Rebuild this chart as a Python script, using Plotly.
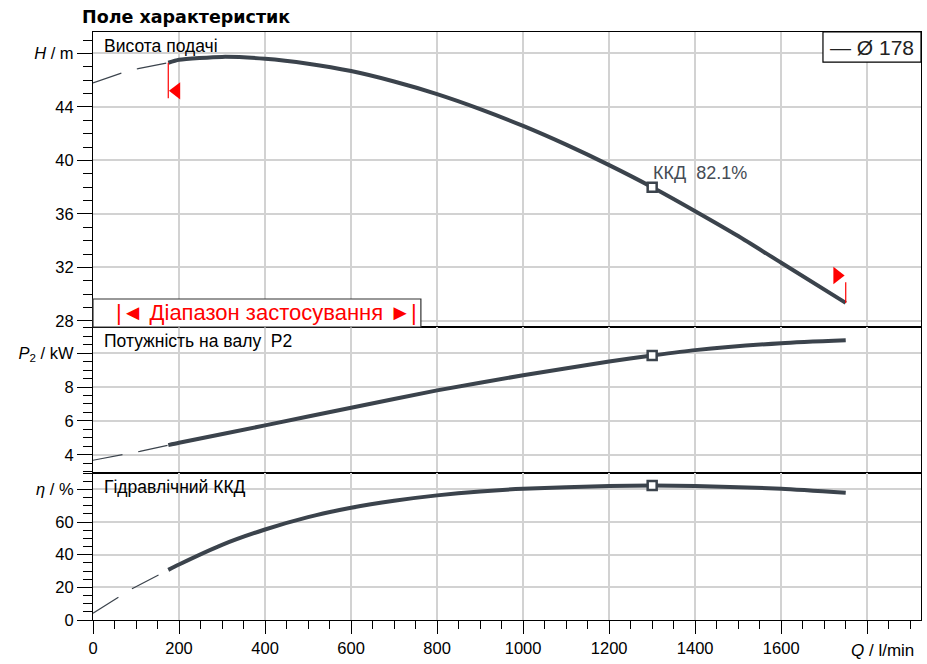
import plotly.graph_objects as go
from plotly.subplots import make_subplots

# pump curves (Q in l/min)
q_head = [175, 200, 300, 400, 500, 600, 700, 800, 900, 1000, 1100, 1200, 1300, 1400, 1500, 1600, 1750]
head = [47.3, 47.52, 47.74, 47.6, 47.23, 46.68, 45.9, 44.96, 43.84, 42.58, 41.18, 39.65,
        38.0, 36.21, 34.35, 32.35, 29.35]

q_p2 = [175, 200, 400, 600, 800, 1000, 1200, 1300, 1400, 1600, 1750]
p2 = [4.58, 4.72, 5.74, 6.78, 7.8, 8.69, 9.5, 9.85, 10.17, 10.58, 10.75]

q_eta = [175, 200, 300, 400, 500, 600, 700, 800, 900, 1000, 1200, 1300, 1400, 1600, 1750]
eta = [30.7, 34.0, 46.0, 55.4, 63.0, 68.7, 73.0, 76.3, 78.7, 80.3, 82.0, 82.3, 82.0, 80.4, 77.9]

# dashed part outside the working range
q_head_ext = [0, 66, 105, 175]
head_ext = [45.8, 46.53, 46.86, 47.3]
q_p2_ext = [0, 70, 109, 175]
p2_ext = [3.69, 4.03, 4.21, 4.58]
q_eta_ext = [0, 60, 93, 175]
eta_ext = [4.1, 14.0, 19.5, 30.7]

bep_q = 1300
bep_label = "ККД  82.1%"
impeller = "Ø 178"

x_ticks = [0, 200, 400, 600, 800, 1000, 1200, 1400, 1600, 1800]
x_labels = ["0", "200", "400", "600", "800", "1000", "1200", "1400", "1600", ""]
h_ticks = [28, 32, 36, 40, 44, 48]
h_labels = ["28", "32", "36", "40", "44", "<i>H</i> / m"]
p_ticks = [4, 6, 8, 10]
p_labels = ["4", "6", "8", "<i>P</i><sub>2</sub> / kW"]
e_ticks = [0, 20, 40, 60, 80]
e_labels = ["0", "20", "40", "60", "<i>η</i> / %"]

LINE = "#3b434c"
GRID = "#d2d2d2"
FONT = "Liberation Sans, Arial, sans-serif"

fig = make_subplots(rows=3, cols=1, shared_xaxes=True, vertical_spacing=0,
                    row_heights=[295, 146, 147])

curves = [
    (q_head, head, q_head_ext, head_ext, 1),
    (q_p2, p2, q_p2_ext, p2_ext, 2),
    (q_eta, eta, q_eta_ext, eta_ext, 3),
]
for qq, vv, qe, ve, row in curves:
    fig.add_trace(go.Scatter(x=qe, y=ve, mode="lines",
                             line=dict(color=LINE, width=1.2, dash="30px,16px"),
                             hoverinfo="skip", showlegend=False), row=row, col=1)
    fig.add_trace(go.Scatter(x=qq, y=vv, mode="lines",
                             line=dict(color=LINE, width=4, shape="spline", smoothing=0.6),
                             showlegend=False), row=row, col=1)
    i = qq.index(bep_q)
    fig.add_trace(go.Scatter(x=[qq[i]], y=[vv[i]], mode="markers",
                             marker=dict(symbol="square", size=9, color="white",
                                         line=dict(color=LINE, width=2.5)),
                             showlegend=False), row=row, col=1)

# working range flags on the head curve
q0, h0 = q_head[0], head[0]
q1, h1 = q_head[-1], head[-1]
fig.add_trace(go.Scatter(x=[q0, q0], y=[h0, h0 - 2.65], mode="lines",
                         line=dict(color="red", width=1.2), hoverinfo="skip",
                         showlegend=False), row=1, col=1)
fig.add_trace(go.Scatter(x=[q0 + 19], y=[h0 - 2.1], mode="markers",
                         marker=dict(symbol="triangle-left", size=15, color="red"),
                         hoverinfo="skip", showlegend=False), row=1, col=1)
fig.add_trace(go.Scatter(x=[q1, q1], y=[h1, h1 + 1.55], mode="lines",
                         line=dict(color="red", width=1.2), hoverinfo="skip",
                         showlegend=False), row=1, col=1)
fig.add_trace(go.Scatter(x=[q1 - 20], y=[h1 + 2.05], mode="markers",
                         marker=dict(symbol="triangle-right", size=15, color="red"),
                         hoverinfo="skip", showlegend=False), row=1, col=1)

axis_common = dict(showline=True, linecolor="black", linewidth=1.2, mirror=True,
                   showgrid=True, gridcolor=GRID, gridwidth=1.5, zeroline=False,
                   tickfont=dict(family=FONT, size=16.5, color="black"))

for row in (1, 2, 3):
    bottom = row == 3
    fig.update_xaxes(range=[0, 1925], tickmode="array", tickvals=x_ticks, ticktext=x_labels,
                     showticklabels=bottom, ticks="outside" if bottom else "",
                     ticklen=13, tickcolor="black",
                     minor=dict(ticks="outside" if bottom else "", ticklen=8, dtick=50,
                                tick0=0, tickcolor="black", showgrid=False),
                     row=row, col=1, **axis_common)

y_setup = [
    (1, [27.55, 49.6], h_ticks, h_labels, 1),
    (2, [2.94, 11.53], p_ticks, p_labels, 0.5),
    (3, [0, 90], e_ticks, e_labels, 5),
]
for row, rng, tv, tt, minor_step in y_setup:
    fig.update_yaxes(range=rng, tickmode="array", tickvals=tv, ticktext=tt,
                     ticks="outside", ticklen=15, tickcolor="black",
                     minor=dict(ticks="outside", ticklen=9, dtick=minor_step, tick0=0,
                                tickcolor="black", showgrid=False),
                     row=row, col=1, **axis_common)

# range of application box
fig.add_shape(type="rect", xref="x domain", yref="y domain", x0=0, x1=0.396, y0=0, y1=0.095,
              line=dict(color="#333333", width=1.2), fillcolor="white", layer="above")
fig.add_annotation(xref="x domain", yref="y domain", x=0.209, y=0.05, xanchor="center",
                   yanchor="middle", text="|◄ Діапазон застосування ►|", showarrow=False,
                   font=dict(family=FONT, size=22, color="red"))

panel_titles = [("y", "Висота подачі"), ("y2", "Потужність на валу  P2"),
                ("y3", "Гідравлічний ККД")]
for yref, txt in panel_titles:
    fig.add_annotation(xref="x domain", yref=yref + " domain", x=0, y=1, xanchor="left",
                       yanchor="top", xshift=9, yshift=-2, text=txt, showarrow=False,
                       font=dict(family=FONT, size=17.5, color="black"))

i = q_head.index(bep_q)
fig.add_annotation(x=bep_q, y=head[i], xref="x", yref="y", xanchor="left", yanchor="bottom",
                   xshift=-1, yshift=2, text=bep_label, showarrow=False,
                   font=dict(family=FONT, size=18, color="#454c55"))

# legend box in the top right corner
fig.add_shape(type="rect", xref="x domain", yref="y domain", x0=0.8816, x1=1, y0=0.898, y1=1,
              line=dict(color="black", width=1.2), fillcolor="white", layer="above")
fig.add_annotation(xref="x domain", yref="y domain", x=0.941, y=0.949, xanchor="center",
                   yanchor="middle", text="— " + impeller, showarrow=False,
                   font=dict(family=FONT, size=21, color="#222222"))

fig.add_annotation(xref="paper", yref="paper", x=1, y=0, xanchor="right", yanchor="top",
                   xshift=-5, yshift=-19, text="<i>Q</i> / l/min", showarrow=False,
                   font=dict(family=FONT, size=17, color="black"))

fig.update_layout(
    width=927, height=664,
    margin=dict(l=93, r=6, t=32, b=44),
    paper_bgcolor="white", plot_bgcolor="white",
    title=dict(text="<b>Поле характеристик</b>", x=82 / 927, xanchor="left",
               y=1 - 17 / 664, yanchor="middle",
               font=dict(family="DejaVu Sans", size=17.5, color="black")),
    showlegend=False,
)

# the page has a default body margin; drop it so the figure sits at the window corner
fig.write_html("out.html", config={"displayModeBar": False},
               post_script="document.body.style.margin='0';")
